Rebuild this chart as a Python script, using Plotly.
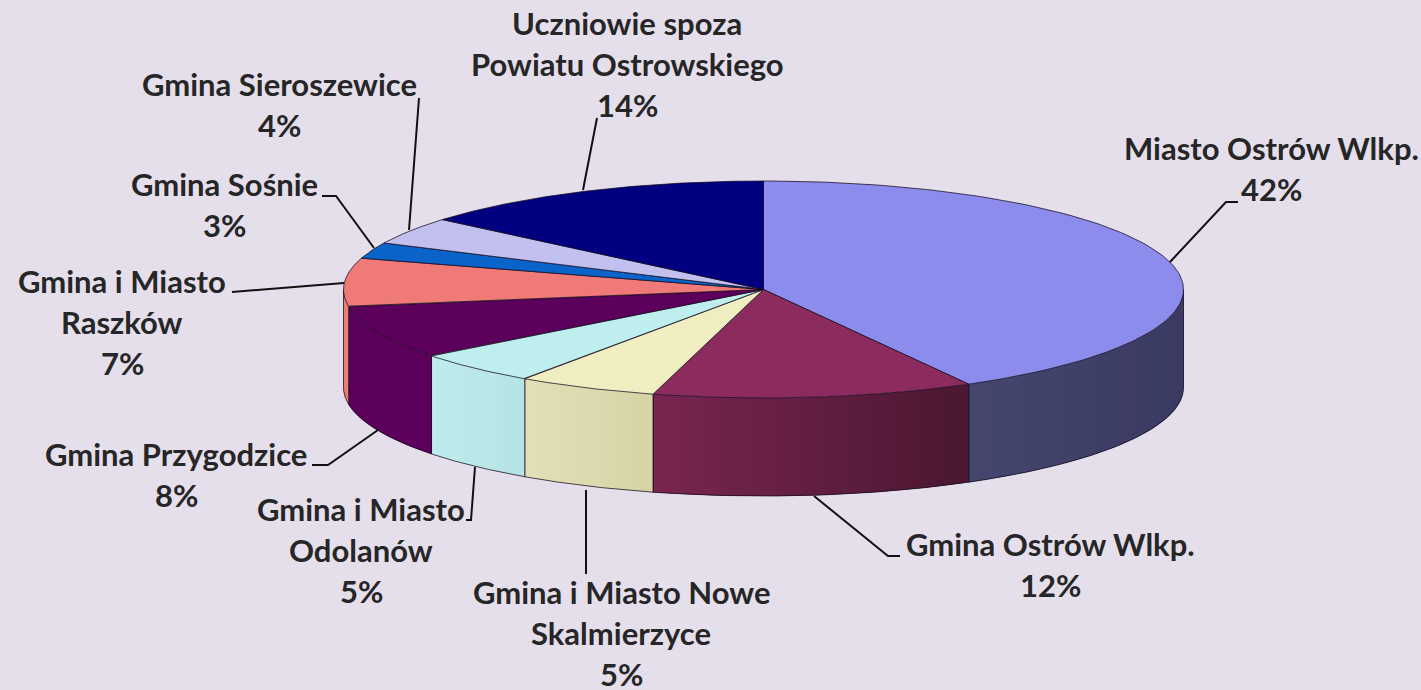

import numpy as np
import plotly.graph_objects as go

categories = ["Miasto Ostrów Wlkp.", "Gmina Ostrów Wlkp.", "Gmina i Miasto Nowe Skalmierzyce",
              "Gmina i Miasto Odolanów", "Gmina Przygodzice", "Gmina i Miasto Raszków",
              "Gmina Sośnie", "Gmina Sieroszewice", "Uczniowie spoza Powiatu Ostrowskiego"]
values = [42.0, 12.4, 5.4, 4.9, 8.0, 7.2, 2.4, 4.1, 13.9]
top_colors = ["#8B8CEB", "#8C2C5E", "#F0EEC0", "#BEEFEE", "#5C005C", "#F07A78", "#0A63C8", "#C2C0EE", "#000080"]
side_left = ["#45476F", "#7A2550", "#E3E0B8", "#BEEBEB", "#5C005C", "#E87F70", "#0A63C8", "#C2C0EE", "#000080"]
side_right = ["#3A3A62", "#4A1732", "#D6D3A6", "#B6E3E4", "#5C005C", "#E87F70", "#0A63C8", "#C2C0EE", "#000080"]
label_lines = [["Miasto Ostrów Wlkp.", "42%"], ["Gmina Ostrów Wlkp.", "12%"],
               ["Gmina i Miasto Nowe", "Skalmierzyce", "5%"], ["Gmina i Miasto", "Odolanów", "5%"],
               ["Gmina Przygodzice", "8%"], ["Gmina i Miasto", "Raszków", "7%"],
               ["Gmina Sośnie", "3%"], ["Gmina Sieroszewice", "4%"],
               ["Uczniowie spoza", "Powiatu Ostrowskiego", "14%"]]
label_x = [1271, 1050, 621, 361, 176, 122, 224, 279, 627]
label_y0 = [148, 544, 592, 509, 454, 281, 184, 84, 23]
LINE_STEP = 41
leader_x = [[1170, 1226, 1238], [814, 888, 900], [586, 586], [475, 471, 466], [378, 328, 312], [344, 232], [374, 336, 322], [409, 419], [583, 597]]
leader_y = [[262, 202, 202], [496, 556, 556], [490, 574], [467, 520, 520], [430, 465, 465], [283, 292], [248, 196, 196], [230, 98], [190, 118]]

CX, CY, RX, RY, DEPTH = 763.5, 289.5, 420.0, 108.5, 98.0
EDGE = "rgba(20,10,30,0.75)"


def px(t):
    return CX + RX * np.sin(t)


def py(t):
    return CY - RY * np.cos(t)


def rgb(h):
    return np.array([int(h[k:k + 2], 16) for k in (1, 3, 5)], dtype=float)


fig = go.Figure()
total = sum(values)
edges = np.cumsum([0] + values) / total * 2 * np.pi

# side walls: only the front half of the ellipse is visible, drawn as shaded strips
for i in range(len(values)):
    lo, hi = max(edges[i], np.pi / 2), min(edges[i + 1], 3 * np.pi / 2)
    if lo >= hi:
        continue
    n = max(2, int((hi - lo) / 0.02))
    ts = np.linspace(lo, hi, n + 1)
    x_left, x_right = px(hi), px(lo)
    for j in range(n):
        # shade follows horizontal position: darker towards the right
        xm = px((ts[j] + ts[j + 1]) / 2)
        f = (xm - x_left) / max(1.0, x_right - x_left)
        col = rgb(side_left[i]) + (rgb(side_right[i]) - rgb(side_left[i])) * f
        tt = np.array([ts[j], min(hi, ts[j + 1] + 0.02)])
        xs = list(px(tt)) + list(px(tt[::-1]))
        ys = list(py(tt)) + list(py(tt[::-1]) + DEPTH)
        fig.add_trace(go.Scatter(x=xs, y=ys, mode="lines", fill="toself", line=dict(width=0),
                                 fillcolor=f"rgb({col[0]:.0f},{col[1]:.0f},{col[2]:.0f})",
                                 hoverinfo="skip", showlegend=False))
    # wall outline
    tt = np.linspace(lo, hi, 80)
    fig.add_trace(go.Scatter(x=list(px(tt)) + [px(hi), None, px(lo), px(lo)],
                             y=list(py(tt) + DEPTH) + [py(hi), None, py(lo), py(lo) + DEPTH],
                             mode="lines", line=dict(width=1, color=EDGE), hoverinfo="skip", showlegend=False))

# top face
for i, name in enumerate(categories):
    tt = np.linspace(edges[i], edges[i + 1], 120)
    xs = [CX] + list(px(tt)) + [CX]
    ys = [CY] + list(py(tt)) + [CY]
    fig.add_trace(go.Scatter(x=xs, y=ys, mode="lines", fill="toself", name=name, showlegend=False,
                             line=dict(width=1, color=EDGE), fillcolor=top_colors[i], hoverinfo="name"))

# leader lines and labels
for i in range(len(values)):
    fig.add_trace(go.Scatter(x=leader_x[i], y=leader_y[i], mode="lines",
                             line=dict(color="#111111", width=2), hoverinfo="skip", showlegend=False))
    for k, line in enumerate(label_lines[i]):
        fig.add_annotation(x=label_x[i], y=label_y0[i] + k * LINE_STEP, text=f"<b>{line}</b>", showarrow=False,
                           xanchor="center", yanchor="middle",
                           font=dict(family="Lato, Open Sans, Liberation Sans", size=31, color="#262626"))

fig.update_layout(width=1421, height=690, margin=dict(l=0, r=0, t=0, b=0), paper_bgcolor="#E5DFEC", plot_bgcolor="#E5DFEC",
                  xaxis=dict(range=[0, 1421], visible=False, fixedrange=True),
                  yaxis=dict(range=[690, 0], visible=False, fixedrange=True))
fig.write_html("out.html", config=dict(displayModeBar=False),
               post_script="document.body.style.margin='0';document.body.style.background='#E5DFEC';")
